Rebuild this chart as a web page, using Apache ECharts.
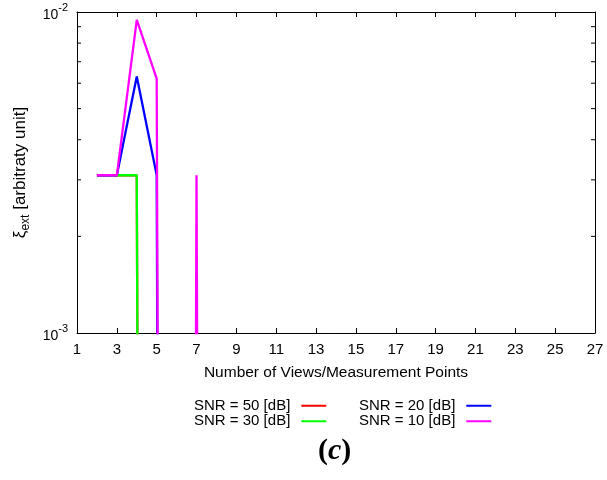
<!DOCTYPE html>
<html>
<head>
<meta charset="utf-8">
<script src="https://cdn.jsdelivr.net/npm/echarts@6/dist/echarts.min.js"></script>
<style>
  html, body { margin: 0; padding: 0; background: #fff; }
  #chart { width: 607px; height: 480px; }
</style>
</head>
<body>
<div id="chart"></div>
<script>
// Number of views / measurement points
const views = [2, 3, 4, 5, 6, 7, 8];
// Extinction error per SNR level; 1e-20 stands for "numerically zero"
const snr50 = [3.1e-3, 3.1e-3, 3.1e-3, 1e-20, 1e-20, 1e-20, 1e-20];
const snr30 = [3.1e-3, 3.1e-3, 3.1e-3, 1e-20, 1e-20, 1e-20, 1e-20];
const snr20 = [3.1e-3, 3.1e-3, 6.3e-3, 3.1e-3, 1e-20, 1e-20, 1e-20];
const snr10 = [3.1e-3, 3.1e-3, 9.45e-3, 6.2e-3, 1e-20, 3.1e-3, 1e-20];

const seriesNames = ['SNR = 50 [dB]', 'SNR = 30 [dB]', 'SNR = 20 [dB]', 'SNR = 10 [dB]'];
const seriesColors = ['#ff0000', '#00ff00', '#0000ff', '#ff00ff'];
const seriesValues = [snr50, snr30, snr20, snr10];

// Axis ranges and minor tick positions on the log axis
const xMin = 1, xMax = 27, xStep = 2;
const yMin = 1e-3, yMax = 1e-2;
const yMinorTicks = [2e-3, 3e-3, 4e-3, 5e-3, 6e-3, 7e-3, 8e-3, 9e-3];

const FONT = '"Liberation Sans", Arial, Helvetica, sans-serif';
const SERIF = '"Liberation Serif", "DejaVu Serif", serif';

const chart = echarts.init(document.getElementById('chart'), null, { renderer: 'canvas' });

const lineSeries = seriesNames.map((name, i) => ({
  name: name,
  type: 'line',
  xAxisIndex: 0,
  yAxisIndex: 0,
  symbol: 'none',
  clip: true,
  color: seriesColors[i],
  lineStyle: { width: 2.3, color: seriesColors[i] },
  data: views.map((v, k) => [v, seriesValues[i][k]]),
  z: 3 + i
}));

// Inward minor ticks on both vertical borders
const minorTickSeries = {
  type: 'custom',
  xAxisIndex: 0,
  yAxisIndex: 0,
  silent: true,
  clip: false,
  data: yMinorTicks.map(v => [v]),
  renderItem: function (params, api) {
    const v = api.value(0);
    const l = api.coord([xMin, v]);
    const r = api.coord([xMax, v]);
    const style = { stroke: '#000', lineWidth: 1 };
    return {
      type: 'group',
      children: [
        { type: 'line', shape: { x1: l[0], y1: l[1], x2: l[0] + 4, y2: l[1] }, style: style },
        { type: 'line', shape: { x1: r[0], y1: r[1], x2: r[0] - 4, y2: r[1] }, style: style }
      ]
    };
  },
  z: 10
};

const legendCommon = {
  orient: 'vertical',
  align: 'right',
  icon: 'rect',
  padding: 0,
  itemWidth: 25,
  itemHeight: 2,
  itemGap: 0,
  selectedMode: false,
  textStyle: { fontFamily: FONT, fontSize: 15, color: '#000', lineHeight: 15.5, padding: [0, 6, 0, 0] }
};

const option = {
  animation: false,
  backgroundColor: '#fff',
  grid: { left: 77, right: 12, top: 12, bottom: 147, outerBoundsMode: 'none', containLabel: false },
  title: {
    text: '{p|(}{c|c}{p|)}',
    left: 318,
    top: 436,
    padding: 0,
    textStyle: {
      rich: {
        p: { fontFamily: SERIF, fontSize: 30, color: '#000' },
        c: { fontFamily: SERIF, fontSize: 30, fontStyle: 'italic', fontWeight: 'bold', color: '#000' }
      }
    }
  },
  legend: [
    Object.assign({ left: 194, top: 398, data: seriesNames.slice(0, 2) }, legendCommon),
    Object.assign({ left: 359, top: 398, data: seriesNames.slice(2, 4) }, legendCommon)
  ],
  xAxis: [
    {
      type: 'value',
      min: xMin, max: xMax, interval: xStep,
      name: 'Number of Views/Measurement Points',
      nameLocation: 'middle',
      nameGap: 32,
      nameTextStyle: { fontFamily: FONT, fontSize: 15.5, color: '#000' },
      axisLine: { show: true, onZero: false, lineStyle: { color: '#000', width: 1 } },
      axisTick: { show: true, inside: true, length: 5, lineStyle: { color: '#000' } },
      axisLabel: { fontFamily: FONT, fontSize: 15, color: '#000', margin: 9 },
      splitLine: { show: false }
    },
    {
      type: 'value',
      position: 'top',
      min: xMin, max: xMax, interval: xStep,
      axisLine: { show: true, onZero: false, lineStyle: { color: '#000', width: 1 } },
      axisTick: { show: true, inside: true, length: 5, lineStyle: { color: '#000' } },
      axisLabel: { show: false },
      splitLine: { show: false }
    }
  ],
  yAxis: [
    {
      type: 'log',
      logBase: 10,
      min: yMin, max: yMax,
      name: '{x|ξ}{s|ext} [arbitraty unit]',
      nameLocation: 'middle',
      nameRotate: 90,
      nameGap: 45,
      nameTextStyle: {
        fontFamily: FONT, fontSize: 17, color: '#000', lineHeight: 22,
        rich: {
          x: { fontFamily: FONT, fontSize: 17, color: '#000' },
          s: { fontFamily: FONT, fontSize: 12, color: '#000', verticalAlign: 'bottom' }
        }
      },
      axisLine: { show: true, onZero: false, lineStyle: { color: '#000', width: 1 } },
      axisTick: { show: false },
      axisLabel: {
        margin: 9,
        formatter: function (v) {
          const e = Math.round(Math.log10(v));
          return '{b|10}{s|' + e + '}';
        },
        rich: {
          b: { fontFamily: FONT, fontSize: 14, color: '#000', lineHeight: 20, verticalAlign: 'bottom' },
          s: { fontFamily: FONT, fontSize: 11, color: '#000', verticalAlign: 'top' }
        }
      },
      splitLine: { show: false }
    },
    {
      type: 'log',
      logBase: 10,
      position: 'right',
      min: yMin, max: yMax,
      axisLine: { show: true, onZero: false, lineStyle: { color: '#000', width: 1 } },
      axisTick: { show: false },
      axisLabel: { show: false },
      splitLine: { show: false }
    }
  ],
  series: lineSeries.concat([minorTickSeries])
};

chart.setOption(option);
</script>
</body>
</html>
